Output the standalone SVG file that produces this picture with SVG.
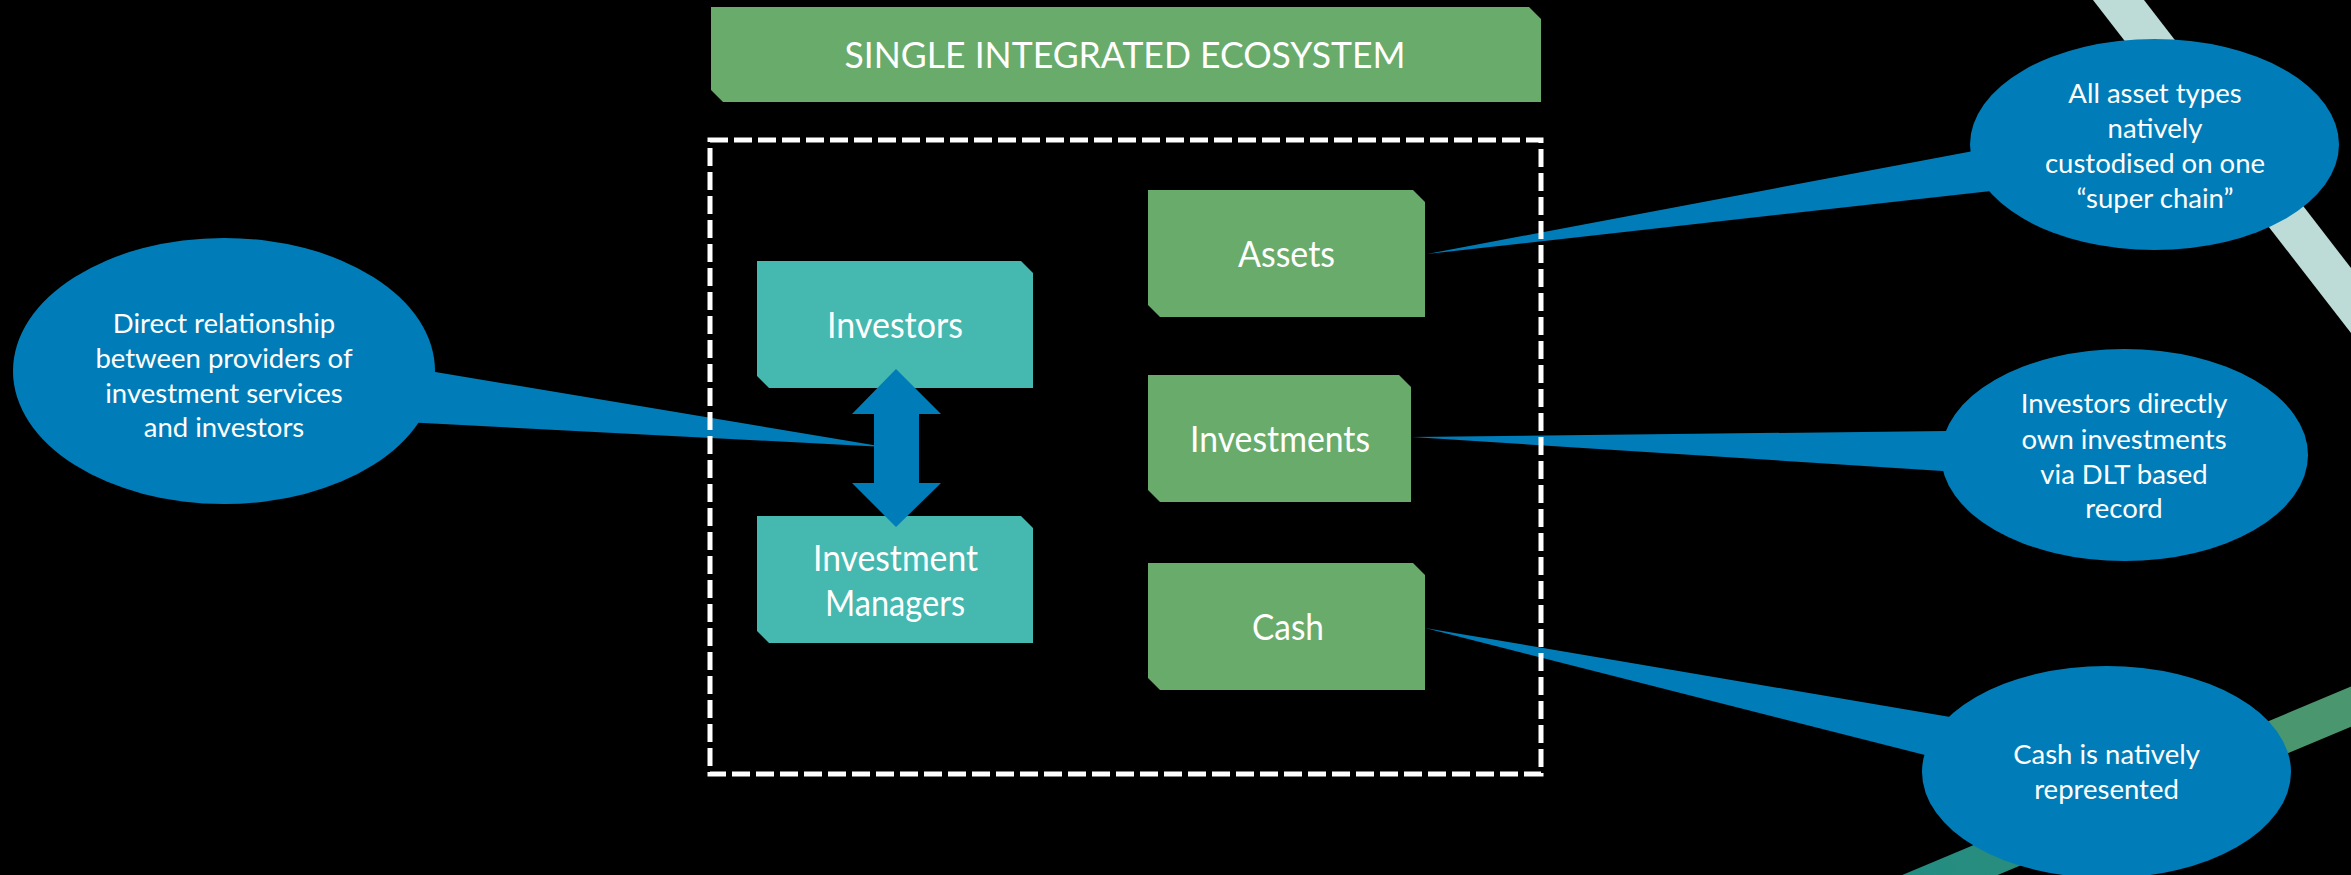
<svg xmlns="http://www.w3.org/2000/svg" width="2351" height="875" viewBox="0 0 2351 875">
  <defs>
    <style>
      .green { fill: #69AB6B; }
      .teal { fill: #45B8B0; }
      .blue { fill: #007DB8; }
      .lbl { font-family: Lato, "Liberation Sans", sans-serif; fill: #FFFFFF; text-anchor: middle; }
      .box { font-size: 37px; }
      .call { font-size: 27.5px; }
      .title { font-size: 36px; }
    </style>
    <linearGradient id="bandGrad" gradientUnits="userSpaceOnUse" x1="1900" y1="900" x2="2351" y2="700">
      <stop offset="0" stop-color="#228C82"/>
      <stop offset="0.45" stop-color="#2E8E7A"/>
      <stop offset="0.7" stop-color="#4A966E"/>
      <stop offset="1" stop-color="#4A966E"/>
    </linearGradient>
  </defs>

  <rect x="0" y="0" width="2351" height="875" fill="#000000"/>

  <g id="background-bands">
    <polygon points="2093,0 2144,0 2351,268 2351,333" fill="#BEDCD7"/>
    <line x1="1850" y1="917" x2="2400" y2="686" stroke="url(#bandGrad)" stroke-width="37"/>
  </g>

  <g id="connectors">
    <polygon class="blue" points="885,447 380,362.7 380,420.8"/>
    <polygon class="blue" points="1427,254 2000,146 2000,190"/>
    <polygon class="blue" points="1412,437 1990,430.5 1990,474"/>
    <polygon class="blue" points="1425,628 1990,723.7 1990,771.5"/>
  </g>

  <g id="callout-direct-relationship">
    <ellipse class="blue" cx="224" cy="371" rx="211" ry="133"/>
    <text class="lbl call" x="224" y="333">Direct relationship</text>
    <text class="lbl call" x="224" y="367.5">between providers of</text>
    <text class="lbl call" x="224" y="402.5">investment services</text>
    <text class="lbl call" x="224" y="437">and investors</text>
  </g>

  <g id="callout-assets">
    <ellipse class="blue" cx="2154.5" cy="144.5" rx="184.5" ry="105.5"/>
    <text class="lbl call" x="2155" y="103">All asset types</text>
    <text class="lbl call" x="2155" y="137.5">natively</text>
    <text class="lbl call" x="2155" y="173">custodised on one</text>
    <text class="lbl call" x="2155" y="208">“super chain”</text>
  </g>

  <g id="callout-investments">
    <ellipse class="blue" cx="2124.5" cy="455" rx="183.5" ry="106"/>
    <text class="lbl call" x="2124" y="413">Investors directly</text>
    <text class="lbl call" x="2124" y="449">own investments</text>
    <text class="lbl call" x="2124" y="484">via DLT based</text>
    <text class="lbl call" x="2124" y="518">record</text>
  </g>

  <g id="callout-cash">
    <ellipse class="blue" cx="2106.5" cy="772" rx="184.5" ry="106"/>
    <text class="lbl call" x="2106.5" y="764">Cash is natively</text>
    <text class="lbl call" x="2106.5" y="799">represented</text>
  </g>

  <g id="ecosystem-boundary">
    <rect x="710" y="140" width="831" height="634" fill="none" stroke="#FFFFFF" stroke-width="5" stroke-dasharray="18 6"/>
  </g>

  <g id="title">
    <polygon class="green" points="711,7 1529,7 1541,19 1541,102 723,102 711,90"/>
    <text class="lbl title" x="1125" y="68" textLength="561" lengthAdjust="spacingAndGlyphs">SINGLE INTEGRATED ECOSYSTEM</text>
  </g>

  <g id="node-investors">
    <polygon class="teal" points="757,261 1021,261 1033,273 1033,388 769,388 757,376"/>
    <text class="lbl box" x="895" y="338" textLength="136" lengthAdjust="spacingAndGlyphs">Investors</text>
  </g>

  <g id="node-investment-managers">
    <polygon class="teal" points="757,516 1021,516 1033,528 1033,643 769,643 757,631"/>
    <text class="lbl box" x="895.5" y="571" textLength="165" lengthAdjust="spacingAndGlyphs">Investment</text>
    <text class="lbl box" x="895" y="616" textLength="140" lengthAdjust="spacingAndGlyphs">Managers</text>
  </g>

  <g id="node-assets">
    <polygon class="green" points="1148,190 1413,190 1425,202 1425,317 1160,317 1148,305"/>
    <text class="lbl box" x="1286.5" y="267" textLength="97" lengthAdjust="spacingAndGlyphs">Assets</text>
  </g>

  <g id="node-investments">
    <polygon class="green" points="1148,375 1399,375 1411,387 1411,502 1160,502 1148,490"/>
    <text class="lbl box" x="1280" y="452" textLength="180" lengthAdjust="spacingAndGlyphs">Investments</text>
  </g>

  <g id="node-cash">
    <polygon class="green" points="1148,563 1413,563 1425,575 1425,690 1160,690 1148,678"/>
    <text class="lbl box" x="1288" y="640" textLength="72" lengthAdjust="spacingAndGlyphs">Cash</text>
  </g>

  <g id="connector-double-arrow">
    <polygon class="blue" points="896,369 941,414 919,414 919,483 941,483 896,527 852,483 874,483 874,414 852,414"/>
  </g>
</svg>
